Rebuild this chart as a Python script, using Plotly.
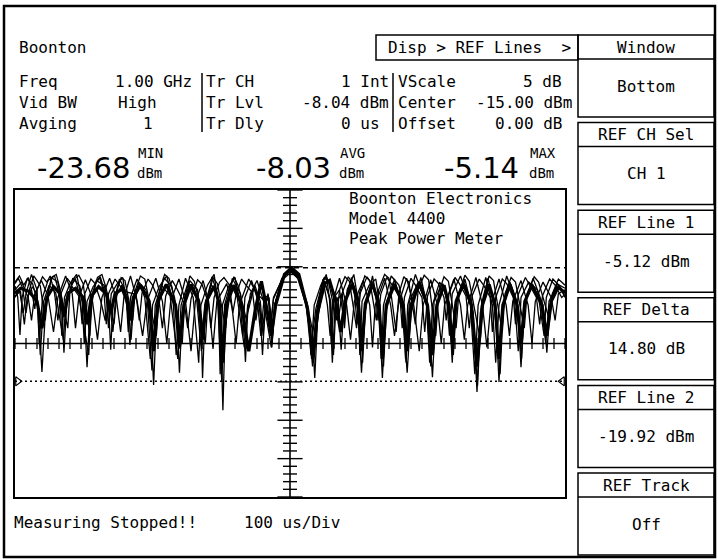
import plotly.graph_objects as go

# ---------------- data (time in us, power in dBm) ----------------
sweep_main = [(0,-8.5),(10,-7.8),(25,-8.2),(40,-9.5),(49,-13),(58,-9),(70,-7.6),(82,-8.5),(89,-11.5),(97,-8.4),
    (110,-7.8),(124,-9),(131,-12.5),(139,-8.8),(152,-7.6),(167,-8.6),(174,-11),(182,-8.5),(195,-7.9),(204,-9.5),
    (209,-12),(215,-9),(228,-7.4),(244,-9.5),(252,-16),(260,-9.5),(275,-7.3),(292,-10),(299,-15.5),(307,-10),
    (320,-7.3),(334,-9.5),(341,-14.5),(348,-9.5),(362,-7.5),(372,-10),(378,-17.5),(384,-10),(398,-7.4),(412,-10),
    (425,-16),(437,-10.5),(448,-6.9),(458,-10.5),(466,-14),(474,-10),(490,-6.0),(503,-5.14),(516,-6.0),(532,-10.5),
    (541,-17),(550,-11),(563,-7.2),(572,-6.8),(583,-9.5),(592,-13.5),(600,-9.5),(613,-7.3),(624,-9.5),(630,-16),
    (637,-9.8),(650,-7.2),(662,-10),(668,-17),(675,-10),(690,-7.3),(706,-10),(713,-16),(720,-10),(735,-7.0),
    (750,-10),(759,-16.5),(767,-10),(780,-7.4),(789,-10),(795,-15),(802,-9.5),(815,-7.2),(830,-10),(840,-18),
    (850,-10),(862,-7.3),(873,-10),(880,-17),(887,-10),(900,-7.3),(913,-10),(920,-15),(927,-9.5),(940,-7.4),
    (958,-10),(967,-14),(975,-9.5),(988,-7.6),(1000,-8.5)]

sweep_deep = [(0,-7.5),(5,-9),(9,-13.9),(13,-9),(22,-6.6),(32,-7.2),(42,-10),(49,-18.7),(56,-10),(66,-6.4),
    (78,-7),(85,-10),(89,-16.2),(94,-10),(105,-6.5),(118,-7.5),(126,-11),(131,-18.1),(136,-11),(148,-6.8),
    (162,-7.4),(170,-10),(174,-15.8),(178,-10),(190,-6.6),(200,-8),(205,-11),(209,-15.2),(213,-10.5),(225,-7),
    (238,-8),(247,-12),(252,-20.4),(257,-12),(270,-6.4),(285,-7.5),(294,-11),(299,-18.8),(304,-11),(318,-6.8),
    (332,-8),(338,-12),(341,-19.5),(345,-12),(358,-6.3),(368,-8.5),(374,-13),(378,-23.68),(382,-13),(395,-6.5),
    (410,-8.5),(415,-12),(419,-17.4),(423,-11),(435,-7.6),(445,-10),(450,-16.5),(455,-10),(460,-8.5),(465,-11),
    (468,-14.3),(472,-10),(485,-6.5),(500,-5.6),(515,-6.5),(530,-9.5),(540,-13),(545,-19.5),(550,-12),(562,-6.8),
    (572,-9),(577,-17.5),(582,-10),(587,-9),(593,-15.8),(598,-10),(612,-6.4),(624,-11),(630,-18.8),(636,-11),
    (650,-6.2),(662,-11),(668,-19.5),(674,-11),(690,-6.6),(706,-11),(713,-18.8),(720,-11),(738,-6.4),(752,-11),
    (759,-19.4),(765,-11),(778,-7.2),(790,-11),(795,-17.5),(800,-10),(818,-6.6),(833,-11),(840,-21.3),(846,-11),
    (860,-6.5),(874,-11),(880,-20),(886,-11),(900,-7),(914,-10),(920,-18.1),(926,-10),(942,-6.5),(960,-10),
    (967,-16.2),(973,-10),(985,-7.2),(1000,-7.8)]

sweep_mid = [(0,-8),(12,-7),(24,-9),(30,-12),(36,-8.5),(48,-6.8),(60,-8.8),(70,-13.5),(78,-9),(92,-6.2),
    (104,-8.5),(110,-13),(116,-9),(128,-6.7),(140,-9),(150,-14.5),(158,-9),(172,-6.5),(184,-9),(192,-13.5),
    (198,-9),(210,-6.2),(222,-9.5),(232,-14),(240,-9.5),(256,-6.5),(268,-9.5),(276,-15),(283,-9.5),(298,-6.6),
    (310,-9.5),(320,-16),(328,-9.5),(342,-6.8),(352,-9.5),(360,-15.5),(367,-9.5),(385,-7.2),(395,-10.5),(402,-15),
    (408,-10),(425,-6.6),(440,-8.5),(450,-13),(458,-9),(462,-9.5),(467,-15),(472,-10),(488,-6.4),(502,-5.3),
    (516,-6.4),(532,-10.5),(541,-18),(548,-11),(560,-6.6),(568,-10),(573,-14),(578,-9.5),(590,-6.5),(603,-10),
    (610,-14.5),(617,-9.5),(633,-6.8),(645,-10),(650,-15.5),(655,-10),(672,-6.5),(683,-10),(690,-14),(697,-10),
    (712,-6.5),(725,-10),(735,-16),(742,-10),(756,-6.7),(768,-10),(775,-15),(781,-10),(798,-6.6),(810,-10),
    (817,-14.5),(823,-10),(838,-6.4),(850,-10),(858,-15.5),(865,-10),(880,-6.6),(893,-10),(899,-14),(905,-9.5),
    (920,-6.8),(933,-10),(940,-15),(946,-9.5),(960,-7),(975,-9),(982,-12),(988,-8.5),(1000,-8)]

sweep_shift = [(0,-9),(8,-8),(15,-11),(20,-8.5),(30,-6),(40,-8),(44,-15),(50,-9),(60,-6.8),(72,-6.2),
    (82,-9),(85,-14),(90,-9),(100,-7.2),(112,-6),(122,-9.5),(126,-15),(131,-9.5),(142,-7.6),(155,-6.3),
    (166,-9),(170,-13),(175,-8.5),(185,-7.3),(196,-6.4),(203,-10),(206,-13.5),(210,-9),(222,-6.6),(236,-9),
    (246,-17),(250,-10),(262,-7.6),(276,-6.2),(288,-10),(293,-16.5),(298,-10),(310,-6.5),(324,-9),(334,-17.5),
    (338,-10),(350,-7.4),(362,-6.0),(370,-10),(373,-19),(377,-10),(388,-7.6),(400,-6.4),(410,-10),(414,-14),
    (418,-9),(430,-6.8),(440,-9),(447,-14),(453,-9),(460,-8.8),(465,-12.5),(470,-9),(488,-6.3),(502,-5.3),
    (518,-6.8),(532,-10),(538,-16.5),(544,-10),(556,-7.4),(566,-6.0),(573,-10),(575,-15),(580,-9),(590,-8),
    (598,-12),(604,-8),(616,-6.0),(624,-9.5),(627,-16.5),(631,-9.5),(644,-7.4),(656,-6.6),(663,-10),(666,-17),
    (670,-10),(684,-6.2),(698,-7.4),(707,-10),(710,-17),(714,-10),(728,-6.0),(748,-10),(754,-17.5),(759,-10),
    (772,-7.0),(784,-8.5),(790,-14),(795,-8.5),(810,-6.2),(828,-10),(836,-19),(842,-10),(856,-6.4),(868,-10),
    (874,-17.5),(880,-10),(894,-6.2),(908,-9),(915,-16),(920,-9),(934,-7),(950,-8),(962,-14),(966,-9),
    (978,-6.6),(990,-7.5),(1000,-9)]

sweep_between = [(0,-7.2),(6,-6.5),(14,-7.8),(20,-11),(26,-8),(34,-6.2),(40,-6.8),(46,-7.5),(55,-12),(60,-8.2),
    (68,-6.3),(75,-6.0),(80,-7.4),(96,-13),(100,-8),(108,-6.6),(116,-6.1),(124,-7.2),(136,-14),(141,-8.4),
    (150,-6.4),(158,-6.0),(165,-7.6),(180,-12.5),(186,-8),(193,-6.4),(200,-6.8),(214,-12),(219,-8),(228,-6.2),
    (236,-6.6),(243,-9),(257,-14),(262,-8.5),(272,-6.0),(280,-6.5),(290,-9),(304,-15),(309,-9),(318,-6.2),
    (326,-6.9),(335,-9.5),(346,-15),(351,-9),(360,-6.4),(368,-7.2),(383,-13),(388,-8.5),(398,-6.3),(406,-7.5),
    (421,-12),(428,-8.5),(440,-6.8),(452,-9.5),(466,-15.5),(474,-9.5),(489,-6.2),(501,-5.4),(514,-6.2),(528,-9.5),
    (541,-16),(552,-9.5),(562,-6.4),(570,-7),(585,-12),(590,-8),(600,-6.3),(608,-6.9),(621,-13),(626,-8.5),
    (636,-6.2),(645,-6.8),(657,-12),(661,-8),(672,-6.0),(680,-6.5),(693,-13.5),(698,-8.5),(707,-6.3),(716,-7),
    (728,-12.5),(733,-8),(744,-6.1),(752,-6.7),(765,-14),(770,-8.5),(780,-6.3),(788,-6.9),(802,-13),(807,-8.5),
    (818,-6.1),(826,-6.9),(846,-14.5),(851,-9),(862,-6.2),(870,-6.8),(886,-13.5),(891,-8.5),(902,-6.4),(910,-7),
    (926,-13),(931,-8.5),(944,-6.3),(952,-7),(972,-12),(977,-8.5),(988,-6.6),(1000,-7.4)]

sweep_spiky = [(0,-8.8),(10,-8.2),(17,-12.5),(22,-9),(32,-7.6),(40,-8.6),(46,-16.5),(52,-9.5),(62,-7.4),(74,-8.4),
    (82,-12),(88,-14.5),(93,-9.2),(104,-7.6),(116,-8.8),(128,-14),(134,-16.5),(139,-9.2),(148,-7.8),(156,-9.5),
    (164,-12),(172,-9.8),(178,-13.5),(183,-9),(194,-7.4),(204,-8.8),(211,-14.5),(216,-9.5),(226,-7.6),(240,-8.8),
    (249,-18.5),(255,-10),(266,-7.4),(282,-8.8),(296,-17),(302,-10),(314,-7.2),(330,-9),(339,-16),(345,-10),
    (356,-7.2),(368,-9),(376,-20),(381,-10),(392,-7.2),(404,-9),(417,-15.5),(423,-10),(436,-7.4),(446,-9.5),
    (451,-14),(457,-9.5),(462,-9),(467,-15.5),(473,-9.8),(488,-6.6),(503,-5.6),(517,-6.6),(531,-10),(543,-17.5),
    (552,-10.5),(564,-7.2),(574,-9.5),(579,-16.5),(584,-9.5),(595,-8.5),(599,-13),(604,-8.5),(614,-7),(626,-9.5),
    (632,-17.5),(638,-9.5),(650,-7.2),(662,-9.5),(670,-18),(676,-9.5),(688,-7),(703,-9.5),(711,-17.5),(717,-9.5),
    (732,-7.2),(748,-9.5),(756,-18),(762,-9.5),(776,-7.2),(788,-9.5),(797,-16.5),(803,-9.5),(816,-7),(830,-9.5),
    (841,-20.5),(848,-10),(860,-7.2),(872,-9.5),(882,-19),(888,-10),(900,-7.2),(912,-9.5),(921,-17),(927,-9.5),
    (940,-7.2),(956,-9.5),(965,-15),(971,-9.5),(984,-7.6),(1000,-8.2)]

sweep_cloud = [(0,-7),(8,-6.2),(16,-7.4),(24,-6.4),(30,-8),(36,-10.5),(40,-8),(50,-6.3),(58,-7),(64,-6.2),
    (72,-8.5),(78,-12),(83,-8.6),(95,-6.5),(103,-7.3),(110,-6.6),(118,-9),(122,-12.5),(127,-8.5),(138,-6.6),
    (146,-7.2),(154,-6.4),(162,-8.5),(166,-12.5),(170,-8.5),(182,-6.6),(190,-7.4),(198,-8.2),(220,-8.6),(226,-12),
    (231,-8.4),(242,-6.6),(250,-7.4),(262,-9.5),(268,-13),(274,-8.8),(286,-6.8),(294,-7.8),(308,-9.8),(314,-13),
    (320,-9.2),(332,-6.7),(340,-7.3),(352,-9.8),(356,-13),(362,-9),(372,-7),(380,-6.4),(390,-7.4),(396,-11),
    (402,-8.6),(412,-6.6),(420,-7.4),(432,-8.4),(438,-12),(444,-8.8),(456,-9.6),(464,-13.5),(470,-9.2),(486,-6.5),
    (500,-5.5),(514,-6.5),(530,-10.2),(539,-15),(547,-10.5),(560,-6.8),(566,-6.3),(574,-7.5),(584,-9),(588,-12),
    (594,-8.6),(606,-6.3),(614,-7.2),(618,-9),(622,-12.5),(628,-8.4),(640,-6.3),(648,-7.2),(656,-8.8),(660,-12),
    (665,-8.6),(676,-6.4),(684,-7.2),(700,-9),(704,-13),(708,-9),(720,-6.5),(728,-7.4),(740,-9),(745,-13.5),
    (750,-8.8),(762,-6.6),(770,-7.2),(780,-9),(784,-12),(789,-8.6),(800,-6.4),(808,-7.2),(820,-8.8),(826,-13),
    (831,-8.8),(844,-6.6),(852,-7.4),(864,-9),(868,-13.5),(874,-9),(886,-6.6),(894,-7.2),(906,-9),(910,-12.5),
    (915,-8.6),(928,-6.4),(936,-7.4),(948,-9),(954,-12.5),(959,-8.8),(972,-6.6),(982,-7.4),(994,-9),(1000,-8.6)]

ref_line_1 = -5.12
ref_line_2 = -19.92
center_dbm = -15.0
vscale_db = 5
time_span_us = [0, 1000]
trigger_us = 500
readings = [("-23.68", "MIN"), ("-8.03", "AVG"), ("-5.14", "MAX")]
softkeys = [("Window", "Bottom"), ("REF CH Sel", "CH 1"), ("REF Line 1", "-5.12 dBm"),
            ("REF Delta", "14.80 dB"), ("REF Line 2", "-19.92 dBm"), ("REF Track", "Off")]

# ---------------- figure ----------------
W, H = 718, 560
X0, X1, Y0, Y1 = 15, 565, 190, 497   # plot area in page pixels
MONO = "DejaVu Sans Mono"
SANS = "DejaVu Sans"

def PX(x):
    return (x - X0) / (X1 - X0)

def PY(y):
    return (Y1 - y) / (Y1 - Y0)

fig = go.Figure()
ymin = center_dbm - 4 * vscale_db
ymax = center_dbm + 4 * vscale_db

# graticule centre lines
fig.add_trace(go.Scatter(x=[trigger_us, trigger_us], y=[ymin, ymax], mode="lines",
                         line=dict(color="black", width=1.6), hoverinfo="skip"))
fig.add_trace(go.Scatter(x=time_span_us, y=[center_dbm, center_dbm], mode="lines",
                         line=dict(color="black", width=1.6), hoverinfo="skip"))
minor_y = [ymin + i for i in range(int(ymax - ymin) + 1) if i % vscale_db != 0]
major_y = [ymin + i for i in range(int(ymax - ymin) + 1) if i % vscale_db == 0]
fig.add_trace(go.Scatter(x=[trigger_us] * len(minor_y), y=minor_y, mode="markers",
                         marker=dict(symbol="line-ew", size=10, line=dict(color="black", width=1.4)),
                         hoverinfo="skip"))
fig.add_trace(go.Scatter(x=[trigger_us] * len(major_y), y=major_y, mode="markers",
                         marker=dict(symbol="line-ew", size=18, line=dict(color="black", width=1.4)),
                         hoverinfo="skip"))
tick_x = [time_span_us[0] + 20 * i for i in range(51)]
fig.add_trace(go.Scatter(x=tick_x, y=[center_dbm] * len(tick_x), mode="markers",
                         marker=dict(symbol="line-ns", size=8, line=dict(color="black", width=1.3)),
                         hoverinfo="skip"))

# reference lines
fig.add_trace(go.Scatter(x=time_span_us, y=[ref_line_1] * 2, mode="lines",
                         line=dict(color="black", width=1.5, dash="5px,4px"), hoverinfo="skip"))
fig.add_trace(go.Scatter(x=time_span_us, y=[ref_line_2] * 2, mode="lines",
                         line=dict(color="black", width=1.5, dash="2px,3px"), hoverinfo="skip"))
fig.add_trace(go.Scatter(x=[time_span_us[0] + 5, time_span_us[1] - 5], y=[ref_line_2] * 2, mode="markers",
                         marker=dict(symbol=["triangle-right-open", "triangle-left-open"], size=8,
                                     color="black", line=dict(width=1.2)),
                         cliponaxis=False, hoverinfo="skip"))

# overlaid sweeps
for sw, wd in [(sweep_cloud, 1.3), (sweep_between, 1.3), (sweep_spiky, 1.3), (sweep_deep, 1.3),
               (sweep_mid, 1.3), (sweep_shift, 1.3), (sweep_main, 3.2)]:
    fig.add_trace(go.Scatter(x=[p[0] for p in sw], y=[p[1] for p in sw], mode="lines",
                             line=dict(color="black", width=wd), hoverinfo="skip"))

shapes = []
ann = []

def rect(x0, y0, x1, y1, w=1.5):
    shapes.append(dict(type="rect", xref="paper", yref="paper", x0=PX(x0), x1=PX(x1),
                       y0=PY(y0), y1=PY(y1), line=dict(color="black", width=w)))

def hline(x0, x1, y, w=1.5):
    shapes.append(dict(type="line", xref="paper", yref="paper", x0=PX(x0), x1=PX(x1),
                       y0=PY(y), y1=PY(y), line=dict(color="black", width=w)))

def vline(x, y0, y1, w=1.5):
    shapes.append(dict(type="line", xref="paper", yref="paper", x0=PX(x), x1=PX(x),
                       y0=PY(y0), y1=PY(y1), line=dict(color="black", width=w)))

def label(x, y, s, anchor="left", size=16, family=MONO):
    ann.append(dict(x=PX(x), y=PY(y), xref="paper", yref="paper", text=s, showarrow=False,
                    xanchor=anchor, yanchor="middle", borderpad=0,
                    font=dict(family=family, size=size, color="black")))

# outer frame
rect(4, 6, 715, 557, 2.5)

# header
label(18, 47, "Boonton")
rect(376, 35, 578, 60)
label(479, 47, "Disp &gt; REF Lines  &gt;", "center")

# info rows
rows_y = [81, 102.5, 124]
label(18, rows_y[0], "Freq"); label(193, rows_y[0], "1.00 GHz", "right")
label(18, rows_y[1], "Vid BW"); label(117, rows_y[1], "High")
label(18, rows_y[2], "Avging"); label(148, rows_y[2], "1", "center")
vline(202, 73, 132)
label(205, rows_y[0], "Tr CH"); label(390, rows_y[0], "1 Int", "right")
label(205, rows_y[1], "Tr Lvl"); label(390, rows_y[1], "-8.04 dBm", "right")
label(205, rows_y[2], "Tr Dly"); label(381, rows_y[2], "0 us", "right")
vline(393, 73, 132)
label(397, rows_y[0], "VScale"); label(563, rows_y[0], "%d dB" % vscale_db, "right")
label(397, rows_y[1], "Center"); label(573, rows_y[1], "%.2f dBm" % center_dbm, "right")
label(397, rows_y[2], "Offset"); label(563, rows_y[2], "0.00 dB", "right")

# big readings
for (val, tag), xr, gap in zip(readings, [132, 332, 520], [5, 7, 9]):
    label(xr, 168, val, "right", 29, SANS)
    label(xr + gap, 153, tag, "left", 14)
    label(xr + gap - 1, 173, "dBm", "left", 14)

# text in plot
label(348, 198, "Boonton Electronics")
label(348, 218, "Model 4400")
label(348, 238, "Peak Power Meter")

# soft keys
for i, (head, body) in enumerate(softkeys):
    top = 35 + i * 87.6
    rect(578, top, 714, top + 82)
    hline(578, 714, top + 24)
    label(646, top + 12, head, "center")
    label(646, top + 51, body, "center")

# status line
label(13, 522, "Measuring Stopped!!")
label(243, 522, "100 us/Div")

fig.update_layout(
    width=W, height=H,
    margin=dict(l=X0, r=W - X1, t=Y0, b=H - Y1),
    paper_bgcolor="white", plot_bgcolor="white",
    showlegend=False,
    shapes=shapes, annotations=ann,
    xaxis=dict(range=time_span_us, showgrid=False, zeroline=False, showticklabels=False,
               ticks="", showline=True, mirror=True, linecolor="black", linewidth=2, fixedrange=True),
    yaxis=dict(range=[ymin, ymax], showgrid=False, zeroline=False, showticklabels=False,
               ticks="", showline=True, mirror=True, linecolor="black", linewidth=2, fixedrange=True),
)
fig.write_html("out.html", config={"displayModeBar": False})
